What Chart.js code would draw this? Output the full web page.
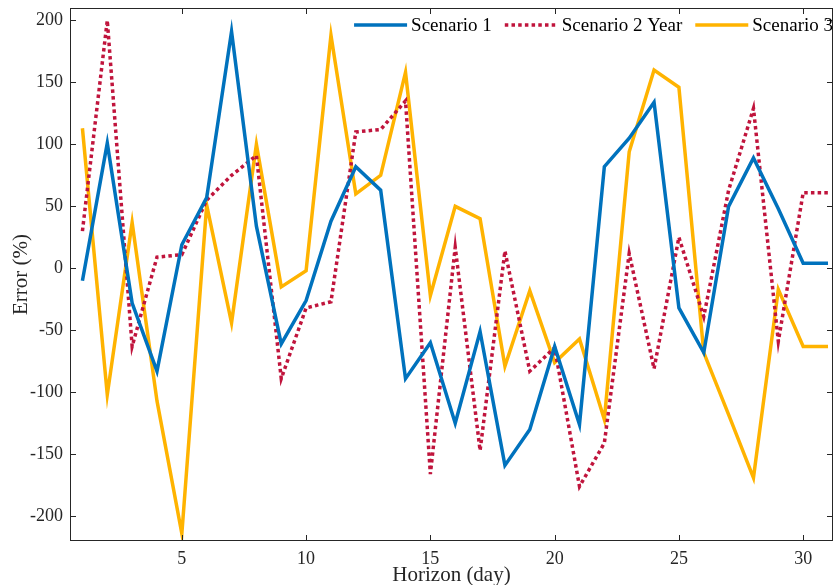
<!DOCTYPE html>
<html>
<head>
<meta charset="utf-8">
<script src="https://cdn.jsdelivr.net/npm/chart.js@4.4.1/dist/chart.umd.min.js"></script>
<style>
  html, body { margin: 0; padding: 0; background: #fff; }
  #wrap { width: 834px; height: 585px; }
</style>
</head>
<body>
<div id="wrap"><canvas id="chart"></canvas></div>
<script>
// horizon days
const days = [1, 2, 3, 4, 5, 6, 7, 8, 9, 10, 11, 12, 13, 14, 15, 16, 17, 18, 19, 20, 21, 22, 23, 24, 25, 26, 27, 28, 29, 30, 31];

// error values (%)
const scenario1 = [-10, 101, -28, -83, 19, 57, 191, 34, -61, -26, 38, 82, 63, -89, -60, -125, -51, -159, -130, -63, -126, 82, 105, 134, -32, -68, 50, 89, 48, 4, 4];
const scenario2 = [30, 200, -63, 9, 11, 55, 75, 91, -89, -32, -27, 110, 112, 135, -166, 17, -147, 14, -83, -64, -176, -141, 12, -81, 25, -39, 63, 129, -59, 61, 61];
const scenario3 = [113, -102, 37, -107, -214, 51, -44, 100, -15, -2, 188, 60, 75, 158, -22, 50, 40, -79, -18, -76, -57, -122, 94, 160, 146, -68, -118, -169, -17, -63, -63];

const seriesNames = ['Scenario 1', 'Scenario 2 Year', 'Scenario 3'];
const xTicks = [5, 10, 15, 20, 25, 30];
const yTicks = [-200, -150, -100, -50, 0, 50, 100, 150, 200];

const toPoints = vals => vals.map((v, i) => ({ x: days[i], y: v }));
const serif = "'Liberation Serif', 'DejaVu Serif', serif";
const inkColor = '#262626';

// frame round the plot and MATLAB-like inward ticks
const framePlugin = {
  id: 'frame',
  afterDatasetsDraw(chart) {
    const { ctx, chartArea: a, scales } = chart;
    ctx.save();
    ctx.strokeStyle = inkColor;
    ctx.lineWidth = 1;
    ctx.strokeRect(a.left + 0.5, a.top + 0.5, a.right - a.left - 1, a.bottom - a.top - 1);
    const len = 6;
    ctx.beginPath();
    xTicks.forEach(t => {
      const px = Math.round(scales.x.getPixelForValue(t)) + 0.5;
      ctx.moveTo(px, a.bottom); ctx.lineTo(px, a.bottom - len);
      ctx.moveTo(px, a.top); ctx.lineTo(px, a.top + len);
    });
    yTicks.forEach(t => {
      const py = Math.round(scales.y.getPixelForValue(t)) + 0.5;
      ctx.moveTo(a.left, py); ctx.lineTo(a.left + len, py);
      ctx.moveTo(a.right, py); ctx.lineTo(a.right - len, py);
    });
    ctx.stroke();
    ctx.restore();
  }
};

// legend in one row inside the top right of the plot, no box
const insideLegend = {
  id: 'insideLegend',
  afterDatasetsDraw(chart) {
    const { ctx, chartArea: a } = chart;
    const sample = 53, gapText = 4, gapItem = 13, yMid = a.top + 17;
    ctx.save();
    ctx.font = '19px ' + serif;
    ctx.textBaseline = 'middle';
    const items = chart.data.datasets.map(ds => ({ ds, w: ctx.measureText(ds.label).width }));
    let total = items.reduce((s, it) => s + sample + gapText + it.w, 0) + gapItem * (items.length - 1);
    let x = a.right - total;
    items.forEach(it => {
      ctx.strokeStyle = it.ds.borderColor;
      ctx.lineWidth = it.ds.borderWidth;
      ctx.setLineDash(it.ds.borderDash || []);
      ctx.beginPath();
      ctx.moveTo(x, yMid);
      ctx.lineTo(x + sample, yMid);
      ctx.stroke();
      ctx.fillStyle = '#000';
      ctx.fillText(it.ds.label, x + sample + gapText, yMid + 1);
      x += sample + gapText + it.w + gapItem;
    });
    ctx.restore();
  }
};

new Chart(document.getElementById('chart'), {
  type: 'line',
  data: {
    datasets: [
      {
        label: seriesNames[0],
        data: toPoints(scenario1),
        borderColor: '#0072BD',
        borderWidth: 3.5,
        pointRadius: 0,
        tension: 0
      },
      {
        label: seriesNames[1],
        data: toPoints(scenario2),
        borderColor: '#C0143C',
        borderWidth: 3.5,
        borderDash: [3.5, 3.2],
        pointRadius: 0,
        tension: 0
      },
      {
        label: seriesNames[2],
        data: toPoints(scenario3),
        borderColor: '#FFB300',
        borderWidth: 3.5,
        pointRadius: 0,
        tension: 0
      }
    ]
  },
  options: {
    responsive: true,
    maintainAspectRatio: false,
    animation: false,
    layout: { padding: { top: 8, right: 1, left: 0, bottom: 0 } },
    scales: {
      x: {
        type: 'linear',
        min: 0.5,
        max: 31.2,
        afterBuildTicks: s => { s.ticks = xTicks.map(v => ({ value: v })); },
        afterFit: s => { s.height = 44; s.paddingLeft = 0; s.paddingRight = 0; },
        grid: { display: false, drawTicks: false },
        border: { display: false },
        ticks: { color: inkColor, font: { family: serif, size: 18 }, padding: 7, maxRotation: 0 },
        title: {
          display: true,
          text: 'Horizon (day)',
          color: inkColor,
          font: { family: serif, size: 21 },
          padding: { top: 0, bottom: -3 }
        }
      },
      y: {
        min: -220,
        max: 210,
        afterBuildTicks: s => { s.ticks = yTicks.map(v => ({ value: v })); },
        afterFit: s => { s.width = 70; s.paddingTop = 0; s.paddingBottom = 0; },
        grid: { display: false, drawTicks: false },
        border: { display: false },
        ticks: { color: inkColor, font: { family: serif, size: 18 }, padding: 7 },
        title: {
          display: true,
          text: 'Error (%)',
          color: inkColor,
          font: { family: serif, size: 21 },
          padding: { top: 9, bottom: 0 }
        }
      }
    },
    plugins: {
      legend: { display: false },
      tooltip: { enabled: false }
    }
  },
  plugins: [framePlugin, insideLegend]
});
</script>
</body>
</html>
